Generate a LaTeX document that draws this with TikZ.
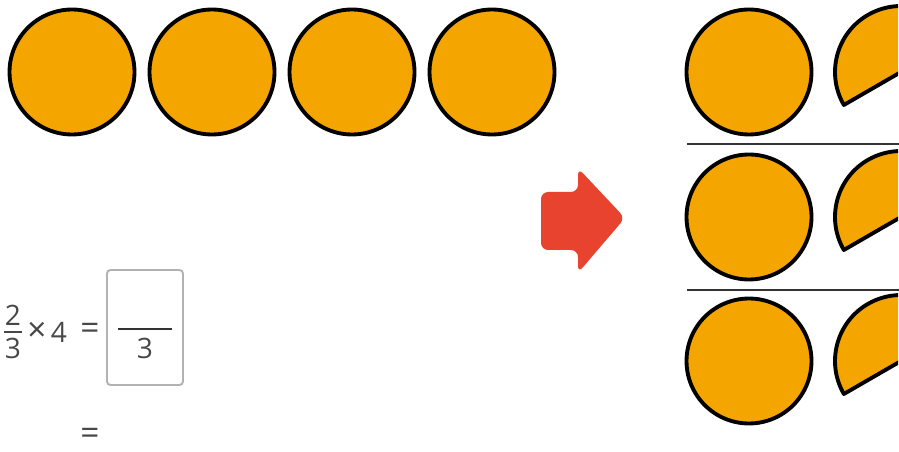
\documentclass[tikz,border=0pt]{standalone}
\usepackage{fontspec}
\setmainfont{Open Sans}
\usetikzlibrary{positioning}
\definecolor{DiscOrange}{RGB}{245,165,0}
\definecolor{ArrowRed}{RGB}{232,67,46}
\definecolor{TextGrey}{RGB}{72,72,72}
\definecolor{BoxGrey}{RGB}{178,178,178}

\begin{document}
\begin{tikzpicture}[
    x=0.02cm, y=-0.02cm,
    disc/.style={circle, draw=black, fill=DiscOrange, line width=2.2pt, minimum size=2.5cm, inner sep=0pt},
    piece/.style={draw=black, fill=DiscOrange, line width=2.2pt, line join=round},
    rule/.style={line width=1.3pt, draw=black!80},
    txt/.style={text=TextGrey, font=\fontsize{16}{18}\selectfont, inner sep=0pt},
    sign/.style={text=TextGrey, font=\fontsize{19}{21}\selectfont, inner sep=0pt},
    answerbox/.style={draw=BoxGrey, line width=1.1pt, rounded corners=2pt, minimum width=1.52cm, minimum height=2.3cm}
]
    \useasboundingbox (0,0) rectangle (899,452);

    % four whole discs
    \foreach \x [count=\i] in {72,212,352,492}
        \node[disc] (top\i) at (\x,72) {};

    % big arrow
    \fill[ArrowRed, rounded corners=4pt] (541,192) -- (578,192) -- (578,168) -- (625,218)
        -- (578,273) -- (578,250) -- (541,250) -- cycle;

    % three groups: a whole disc and a piece
    \begin{scope}
        \clip (0,0) rectangle (898,452);
        \foreach \y [count=\i] in {72,217,361} {
            \node[disc] (whole\i) at (749,\y) {};
            \draw[piece] (901,\y) -- ++(210:1.32cm) arc[start angle=210, end angle=90, radius=1.32cm] -- cycle;
        }
    \end{scope}
    \draw[rule] (687,144) -- (899,144);
    \draw[rule] (687,290) -- (899,290);

    % the sum
    \node[txt] (num) at (13,315) {2};
    \node[txt] (den) at (13,348) {3};
    \draw[TextGrey, line width=1pt] (4,332) -- (22,332);
    \node[sign] (times) at (37,332) {×};
    \node[txt] (four) at (59,332) {4};
    \node[sign] (eq1) at (90,331) {=};
    \node[answerbox] (ans) at (145,327.5) {};
    \draw[black!80, line width=1.2pt] (118,329) -- (172,329);
    \node[txt] (ansden) at (145,348) {3};
    \node[sign] (eq2) at (90,436) {=};
\end{tikzpicture}
\end{document}
